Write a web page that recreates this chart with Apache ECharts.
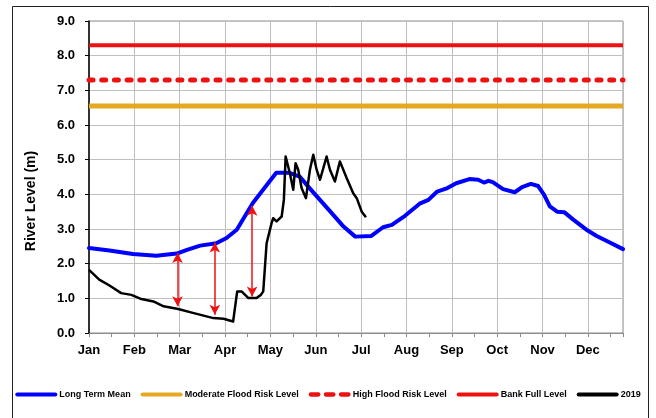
<!DOCTYPE html>
<html>
<head>
<meta charset="utf-8">
<script src="https://cdn.jsdelivr.net/npm/echarts@6/dist/echarts.min.js"></script>
<style>
  html, body { margin: 0; padding: 0; background: #fff; }
  #chart { width: 656px; height: 418px; }
</style>
</head>
<body>
<div id="chart"></div>
<script>
// ---- Data (day of year, river level in m) ----
const months = ['Jan', 'Feb', 'Mar', 'Apr', 'May', 'Jun', 'Jul', 'Aug', 'Sep', 'Oct', 'Nov', 'Dec'];

const meanDays   = [0, 14, 30, 46, 60, 67, 76, 87, 94, 101, 105, 112, 119, 128, 137, 144, 153, 165, 174, 182, 193, 201, 207, 216, 226, 232, 238, 245, 251, 260, 266, 270, 273, 276, 283, 291, 296, 302, 307, 311, 315, 320, 325, 331, 340, 347, 356, 365];
const meanLevels = [2.45, 2.38, 2.28, 2.23, 2.29, 2.40, 2.52, 2.59, 2.74, 2.98, 3.26, 3.75, 4.13, 4.62, 4.62, 4.51, 4.07, 3.50, 3.07, 2.78, 2.80, 3.05, 3.12, 3.38, 3.73, 3.84, 4.08, 4.18, 4.32, 4.44, 4.42, 4.34, 4.39, 4.35, 4.15, 4.06, 4.21, 4.30, 4.24, 3.99, 3.65, 3.50, 3.48, 3.27, 2.98, 2.80, 2.61, 2.42];

const days2019   = [0, 7, 14, 22, 29, 35, 44, 51, 61, 71, 85, 92, 98.5, 99.7, 101.3, 104.3, 108.8, 114.5, 117.5, 119.1, 121.4, 124.8, 125.9, 128.2, 131.7, 133.2, 134.4, 137.3, 139.6, 141.2, 143.0, 145.3, 148.3, 151.0, 153.3, 155.6, 157.9, 162.4, 164.7, 168.1, 171.5, 176.1, 180.6, 183.0, 186.4, 189.3];
const levels2019 = [1.82, 1.54, 1.37, 1.15, 1.10, 0.99, 0.91, 0.77, 0.69, 0.58, 0.43, 0.41, 0.33, 0.33, 1.20, 1.20, 1.01, 1.01, 1.10, 1.20, 2.59, 3.17, 3.31, 3.22, 3.36, 3.84, 5.09, 4.61, 4.13, 4.90, 4.71, 4.18, 3.89, 4.71, 5.14, 4.71, 4.42, 5.09, 4.71, 4.37, 4.95, 4.47, 4.03, 3.89, 3.50, 3.34];

const moderateLevel = 6.55;
const highLevel = 7.3;
const bankFullLevel = 8.3;

const arrowDays   = [60.5, 86, 111.5];
const arrowTop    = [2.31, 2.61, 3.67];
const arrowBottom = [0.77, 0.53, 1.05];

const yearDays = 365;
const tickDays = 31;

// ---- Build ----
const zip = (a, b) => a.map((v, i) => [v, b[i]]);
const flat = (lvl) => [[0, lvl], [yearDays, lvl]];

const FONT = '"Liberation Sans", Arial, sans-serif';
const SOLID_ICON = 'path://M2,0H40A2,2 0 0 1 40,4H2A2,2 0 0 1 2,0Z';
const DASH_ICON = 'path://M2,0H9A2,2 0 0 1 9,4H2A2,2 0 0 1 2,0Z M16,0H23A2,2 0 0 1 23,4H16A2,2 0 0 1 16,0Z M30,0H37A2,2 0 0 1 37,4H30A2,2 0 0 1 30,0Z';

const chart = echarts.init(document.getElementById('chart'), null, { renderer: 'canvas' });

const option = {
  animation: false,
  backgroundColor: '#ffffff',
  textStyle: { fontFamily: FONT },
  grid: { left: 89, right: 33, top: 21, bottom: 85, show: true, borderColor: '#8c8c8c', borderWidth: 1 },
  graphic: [
    { type: 'rect', shape: { x: 12.5, y: 6.5, width: 636, height: 420 }, style: { fill: 'none', stroke: '#222', lineWidth: 1 }, silent: true, z: -1 },
    { type: 'text', x: 31, y: 201, rotation: Math.PI / 2,
      style: { text: 'River Level (m)', font: 'bold 14px ' + FONT, fill: '#000', align: 'center', verticalAlign: 'middle' } }
  ],
  legend: {
    top: 390,
    left: 'center',
    width: 650,
    padding: 0,
    itemWidth: 42,
    itemHeight: 5,
    itemGap: 10,
    textStyle: { fontFamily: FONT, fontWeight: 'bold', fontSize: 9, color: '#000', padding: [0, 0, 0, -3] },
    data: [
      { name: 'Long Term Mean', icon: SOLID_ICON },
      { name: 'Moderate Flood Risk Level', icon: SOLID_ICON },
      { name: 'High Flood Risk Level', icon: DASH_ICON },
      { name: 'Bank Full Level', icon: SOLID_ICON },
      { name: '2019', icon: SOLID_ICON }
    ]
  },
  xAxis: {
    type: 'value',
    min: 0,
    max: yearDays,
    interval: tickDays,
    axisLine: { show: true, lineStyle: { color: '#8c8c8c', width: 1 } },
    axisTick: { show: true, inside: false, length: 4, lineStyle: { color: '#8c8c8c' } },
    minorTick: { show: true, splitNumber: 2, length: 4, lineStyle: { color: '#8c8c8c' } },
    axisLabel: {
      margin: 11,
      fontFamily: FONT, fontWeight: 'bold', fontSize: 13, color: '#000',
      showMaxLabel: false,
      formatter: (v) => {
        const i = Math.round(v / tickDays);
        return (v % tickDays === 0 && i < months.length) ? months[i] : '';
      }
    },
    splitLine: { show: true, lineStyle: { color: '#bfbfbf', width: 1 } }
  },
  yAxis: {
    type: 'value',
    min: 0,
    max: 9,
    interval: 1,
    axisLine: { show: true, lineStyle: { color: '#000', width: 1.5 } },
    axisTick: { show: true, length: 4, lineStyle: { color: '#000' } },
    axisLabel: {
      margin: 14,
      fontFamily: FONT, fontWeight: 'bold', fontSize: 13, color: '#000',
      formatter: (v) => v.toFixed(1)
    },
    splitLine: { show: true, lineStyle: { color: '#bfbfbf', width: 1 } }
  },
  series: [
    { name: 'Long Term Mean', type: 'line', data: zip(meanDays, meanLevels), symbol: 'none',
      lineStyle: { color: '#0000ff', width: 4, cap: 'round', join: 'round' }, itemStyle: { color: '#0000ff' } },
    { name: 'Moderate Flood Risk Level', type: 'line', data: flat(moderateLevel), symbol: 'none',
      lineStyle: { color: '#e6a823', width: 5 }, itemStyle: { color: '#e6a823' } },
    { name: 'High Flood Risk Level', type: 'line', data: flat(highLevel), symbol: 'none',
      lineStyle: { color: '#ee1111', width: 5, type: [4, 8.7], cap: 'round' }, itemStyle: { color: '#ee1111' } },
    { name: 'Bank Full Level', type: 'line', data: flat(bankFullLevel), symbol: 'none',
      lineStyle: { color: '#ee1111', width: 4 }, itemStyle: { color: '#ee1111' } },
    { name: '2019', type: 'line', data: zip(days2019, levels2019), symbol: 'none',
      lineStyle: { color: '#000', width: 2.5, join: 'round' }, itemStyle: { color: '#000' },
      markLine: {
        silent: true,
        symbol: ['arrow', 'arrow'],
        symbolSize: [8, 10],
        label: { show: false },
        lineStyle: { color: '#ee1111', width: 1.5, type: 'solid' },
        emphasis: { disabled: true },
        data: arrowDays.map((d, i) => [{ coord: [d, arrowTop[i]] }, { coord: [d, arrowBottom[i]] }])
      }
    }
  ]
};

chart.setOption(option);
</script>
</body>
</html>
